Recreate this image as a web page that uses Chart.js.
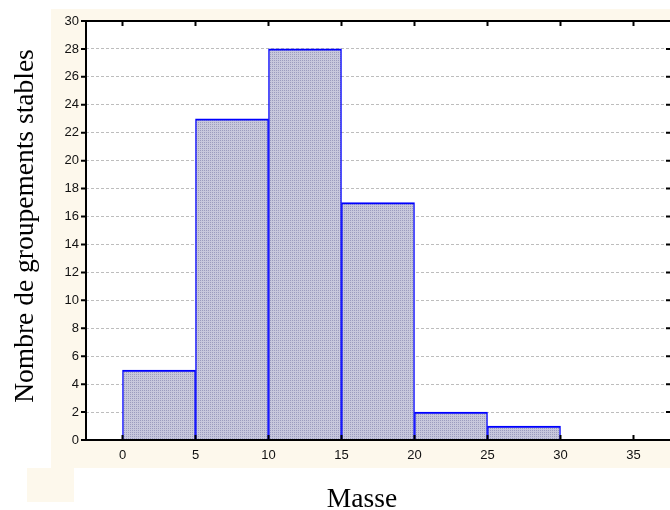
<!DOCTYPE html>
<html lang="fr">
<head>
    <meta charset="UTF-8">
    <title>Masse</title>
    <style>
        html, body { margin: 0; padding: 0; background: #fff; }
        #wrap { width: 670px; height: 510px; }
    </style>
</head>
<body>
    <div id="wrap"><canvas id="canvas" width="670" height="510"></canvas></div>
</body>

<script src="https://cdn.jsdelivr.net/npm/chart.js"></script>

<script>
// histogram bins (width 5) and counts
const binCenters = [2.5, 7.5, 12.5, 17.5, 22.5, 27.5];
const counts = [5, 23, 28, 17, 2, 1];
const xTicks = [0, 5, 10, 15, 20, 25, 30, 35];
const yTicks = [0, 2, 4, 6, 8, 10, 12, 14, 16, 18, 20, 22, 24, 26, 28, 30];

const cream = '#fdf8ec';

// dotted fill like the original
function makePattern() {
  const c = document.createElement('canvas');
  c.width = 2; c.height = 2;
  const g = c.getContext('2d');
  g.fillStyle = '#c8c8dc';
  g.fillRect(0, 0, 2, 2);
  g.fillStyle = '#9c9cbe';
  g.fillRect(0, 0, 1, 1);
  return g.createPattern(c, 'repeat');
}

const framePlugin = {
  id: 'frame',
  beforeDraw(chart) {
    const ctx = chart.ctx;
    const a = chart.chartArea;
    ctx.save();
    ctx.fillStyle = '#fff';
    ctx.fillRect(0, 0, chart.width, chart.height);
    ctx.fillStyle = cream;
    ctx.fillRect(51, 9, chart.width - 51, a.top - 9);
    ctx.fillRect(51, 9, a.left - 51, 468 - 9);
    ctx.fillRect(51, a.bottom, chart.width - 51, 468 - a.bottom);
    ctx.fillRect(27, 468, 47, 34);
    ctx.fillStyle = '#fff';
    ctx.fillRect(a.left, a.top, a.right - a.left, a.bottom - a.top);
    ctx.restore();
  },
  afterDraw(chart) {
    const ctx = chart.ctx;
    const a = chart.chartArea;
    const xs = chart.scales.x;
    const ys = chart.scales.y;
    ctx.save();
    ctx.strokeStyle = '#000';
    ctx.lineWidth = 2;
    ctx.beginPath();
    ctx.moveTo(a.left, a.bottom); ctx.lineTo(a.left, a.top); ctx.lineTo(a.right, a.top);
    ctx.moveTo(a.left, a.bottom); ctx.lineTo(a.right, a.bottom);
    // y ticks: outside on the left, inside on the right
    yTicks.forEach(v => {
      const y = ys.getPixelForValue(v);
      ctx.moveTo(a.left - 5, y); ctx.lineTo(a.left, y);
      ctx.moveTo(a.right - 4, y); ctx.lineTo(a.right, y);
    });
    // x ticks: inside at top and bottom
    xTicks.forEach(v => {
      const x = xs.getPixelForValue(v);
      ctx.moveTo(x, a.top); ctx.lineTo(x, a.top + 5);
      ctx.moveTo(x, a.bottom); ctx.lineTo(x, a.bottom - 5);
    });
    ctx.stroke();

    // axis titles
    ctx.fillStyle = '#000';
    ctx.font = '27.5px "Liberation Serif", "Times New Roman", serif';
    ctx.textAlign = 'center';
    ctx.textBaseline = 'alphabetic';
    ctx.fillText('Masse', 362, 507);
    ctx.translate(33, 226);
    ctx.rotate(-Math.PI / 2);
    ctx.fillText('Nombre de groupements stables', 0, 0);
    ctx.restore();
  }
};

const chart = new Chart(document.getElementById('canvas').getContext('2d'), {
  type: 'bar',
  data: {
    datasets: [{
      label: 'Masse',
      data: binCenters.map((c, i) => ({x: c, y: counts[i]})),
      backgroundColor: makePattern(),
      borderColor: '#0000ff',
      borderWidth: {top: 2, left: 1.4, right: 1.4, bottom: 0},
      borderSkipped: false,
      barPercentage: 1,
      categoryPercentage: 1
    }]
  },
  plugins: [framePlugin],
  options: {
    responsive: false,
    animation: false,
    layout: { padding: { left: 0, top: 21, right: 0, bottom: 40 } },
    plugins: {
      legend: { display: false },
      tooltip: { enabled: false }
    },
    scales: {
      x: {
        type: 'linear',
        offset: false,
        min: -2.5,
        max: 37.5,
        afterBuildTicks: (s) => { s.ticks = xTicks.map(v => ({value: v})); },
        afterFit: (s) => { s.height = 30; },
        grid: { display: false, drawTicks: false, offset: false },
        border: { display: false },
        ticks: {
          padding: 8,
          color: '#111',
          font: { family: '"Liberation Sans", Arial, sans-serif', size: 13 },
          maxRotation: 0
        }
      },
      y: {
        min: 0,
        max: 30,
        afterBuildTicks: (s) => { s.ticks = yTicks.map(v => ({value: v})); },
        afterFit: (s) => { s.width = 86; },
        grid: { color: '#bdbdbd', lineWidth: 1, drawTicks: false, borderDash: [3, 2] },
        border: { display: false, dash: [3, 2] },
        ticks: {
          padding: 7,
          color: '#111',
          font: { family: '"Liberation Sans", Arial, sans-serif', size: 13 }
        }
      }
    }
  }
});
</script>
</html>
